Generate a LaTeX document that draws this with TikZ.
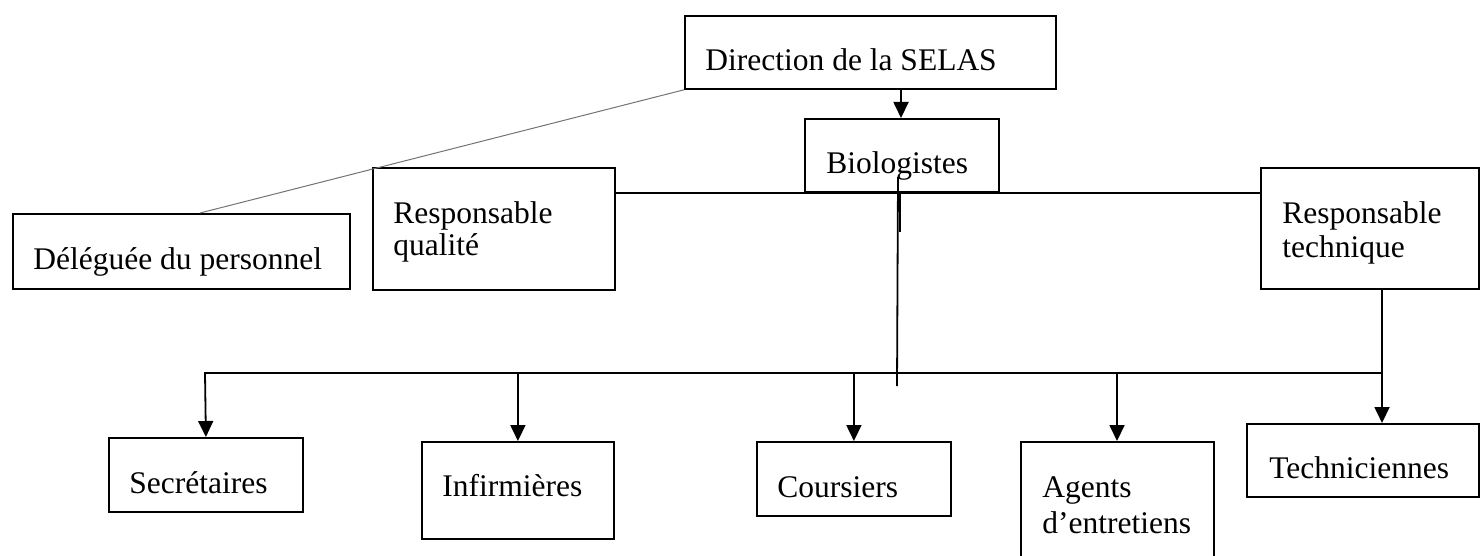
\documentclass[tikz,border=0pt]{standalone}
\usepackage{fontspec}
\setmainfont{Liberation Serif}
\usetikzlibrary{arrows.meta}
\begin{document}
\begin{tikzpicture}[x=0.5pt,y=-0.5pt,
  box/.style={draw, line width=0.9pt, inner sep=0pt, anchor=north west},
  lbl/.style={anchor=base west, inner sep=0pt, font=\fontsize{15.75}{16}\selectfont, align=left},
  link/.style={line width=0.9pt},
  arr/.style={line width=0.9pt, -{Triangle[width=7.5pt,length=8pt]}},
  thinlink/.style={line width=0.5pt, draw=black!55}]
\useasboundingbox (0,0) rectangle (1481,556);
\clip (0,0) rectangle (1481,556);

% boxes: corner at (x,y), size in pixels of the page grid
\newcommand\orgbox[5]{\node[box, minimum width=#4*0.5pt, minimum height=#5*0.5pt] (#1) at (#2,#3) {};}
\orgbox{dir}{684}{15}{371}{73}
\orgbox{bio}{804}{118}{194}{73}
\orgbox{del}{12}{213}{337}{75}
\orgbox{rq}{372}{167}{242}{122}
\orgbox{rt}{1260}{167}{218}{121}
\orgbox{sec}{108}{437}{194}{74}
\orgbox{inf}{421}{441}{192}{97}
\orgbox{cou}{756}{441}{194}{74}
\orgbox{age}{1020}{441}{193}{134}
\orgbox{tec}{1246}{423}{232}{73}

% texts (two-line labels sit on the baseline of their last line)
\node[lbl] (dir-t) at (705,71) {Direction de la SELAS};
\node[lbl] (bio-t) at (826,173) {Biologistes};
\node[lbl] (del-t) at (33,269) {Déléguée du personnel};
\node[lbl, font=\fontsize{15.75}{16}\selectfont] (rq-t) at (393,255) {Responsable\\qualité};
\node[lbl, font=\fontsize{15.75}{17}\selectfont] (rt-t) at (1282,257) {Responsable\\technique};
\node[lbl] (sec-t) at (129,493) {Secrétaires};
\node[lbl] (inf-t) at (442,496) {Infirmières};
\node[lbl] (cou-t) at (777,497) {Coursiers};
\node[lbl, font=\fontsize{15.75}{18}\selectfont] (age-t) at (1042,533) {Agents\\d’entretiens};
\node[lbl] (tec-t) at (1269,478) {Techniciennes};

% helper coordinates
\coordinate (x901) at (901,0);
\coordinate (x900) at (900,0);
\coordinate (x200) at (200,0);
\coordinate (x1117) at (1117,0);
\coordinate (x1382) at (1382,0);
\coordinate (busl) at (205,373);
\coordinate (busr) at (1382,373);
\coordinate (b1) at (898,177);
\coordinate (b2) at (897,386);

% direction to biologists, staff representative
\draw[arr] (dir.south -| x901) -- (bio.north -| x901);
\draw[thinlink] (del.north -| x200) -- (dir.south west);

% level of the quality and technical managers
\draw[link] (rq.east |- bio.south) -- (rt.west |- bio.south);
\draw[link] (b1) -- (b2);
\draw[link] (bio.south -| x900) -- ++(0,39);

% staff bus
\draw[arr] (busr) -- (busl) -- (sec.north);
\draw[arr] (busl -| inf.north) -- (inf.north);
\draw[arr] (busl -| cou.north) -- (cou.north);
\draw[arr] (busl -| x1117) -- (age.north -| x1117);
\draw[arr] (rt.south -| x1382) -- (tec.north -| x1382);
\end{tikzpicture}
\end{document}
